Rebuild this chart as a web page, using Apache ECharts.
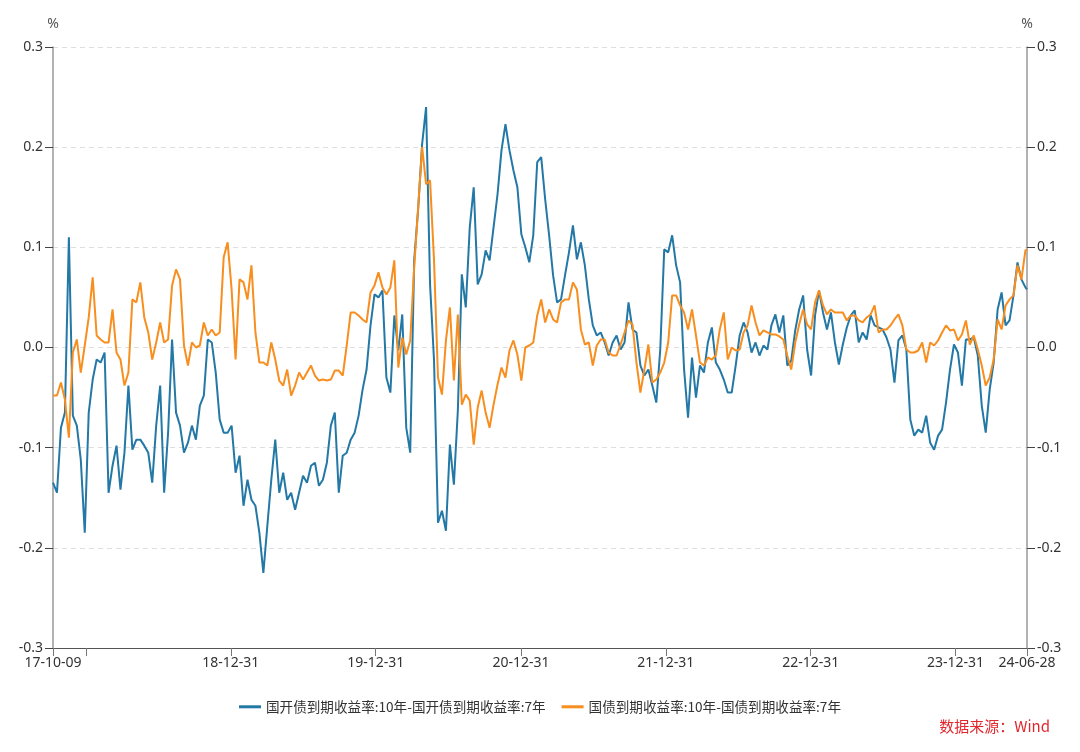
<!DOCTYPE html>
<html><head><meta charset="utf-8">
<script src="https://cdn.jsdelivr.net/npm/echarts@6/dist/echarts.min.js"></script>
<style>html,body{margin:0;padding:0;background:#fff}#c{width:1080px;height:752px}</style>
</head><body><div id="c"></div>
<script>
// ---- data ----
const startDate = '2017-10-09';
const endDate = '2024-06-28';
const stepDays = 10; // sampling step of the series below (calendar days)
const tickDates = ['2017-10-09','2017-12-31','2018-12-31','2019-12-31','2020-12-31','2021-12-31','2022-12-31','2023-12-31','2024-06-28'];
const labelDates = ['2017-10-09','2018-12-31','2019-12-31','2020-12-31','2021-12-31','2022-12-31','2023-12-31','2024-06-28'];
const seriesNames = ['国开债到期收益率:10年-国开债到期收益率:7年','国债到期收益率:10年-国债到期收益率:7年'];
const yMin = -0.3, yMax = 0.3, yStep = 0.1;
const unitLabel = '%';
const sourceText = '数据来源：Wind';

const devBank = [
-0.135,-0.145,-0.08,-0.065,0.11,-0.068,-0.078,-0.112,-0.185,-0.065,
-0.032,-0.012,-0.015,-0.005,-0.145,-0.118,-0.098,-0.142,-0.105,-0.038,
-0.102,-0.092,-0.092,-0.098,-0.105,-0.135,-0.078,-0.038,-0.145,-0.085,
0.008,-0.065,-0.078,-0.105,-0.095,-0.078,-0.092,-0.058,-0.048,0.008,
0.005,-0.025,-0.072,-0.085,-0.085,-0.078,-0.125,-0.108,-0.158,-0.132,
-0.152,-0.158,-0.185,-0.225,-0.178,-0.132,-0.092,-0.145,-0.125,-0.152,
-0.145,-0.162,-0.145,-0.128,-0.135,-0.118,-0.115,-0.138,-0.132,-0.115,
-0.078,-0.065,-0.145,-0.108,-0.105,-0.092,-0.085,-0.068,-0.042,-0.022,
0.022,0.053,0.05,0.057,-0.03,-0.045,0.032,-0.003,0.033,-0.08,
-0.105,0.087,0.138,0.203,0.24,0.063,-0.013,-0.175,-0.163,-0.183,
-0.097,-0.137,-0.063,0.073,0.04,0.12,0.16,0.063,0.073,0.097,
0.087,0.12,0.153,0.197,0.223,0.197,0.177,0.16,0.113,0.10,
0.085,0.112,0.185,0.19,0.148,0.112,0.072,0.045,0.048,0.072,
0.095,0.122,0.088,0.105,0.082,0.048,0.022,0.012,0.015,0.005,
-0.008,0.005,0.012,-0.002,0.005,0.045,0.018,0.015,-0.018,-0.028,
-0.022,-0.038,-0.055,-0.002,0.098,0.095,0.112,0.082,0.065,-0.022,
-0.07,-0.01,-0.05,-0.018,-0.025,0.005,0.02,-0.015,-0.022,-0.032,
-0.045,-0.045,-0.018,0.012,0.025,0.015,-0.005,0.005,-0.008,0.002,
-0.002,0.022,0.033,0.015,0.032,-0.018,-0.013,0.017,0.038,0.052,
-0.002,-0.028,0.032,0.057,0.035,0.018,0.035,0.005,-0.017,0.003,
0.02,0.032,0.037,0.005,0.015,0.008,0.032,0.022,0.02,0.018,
0.01,-0.002,-0.035,0.007,0.012,-0.002,-0.072,-0.088,-0.082,-0.085,
-0.068,-0.095,-0.102,-0.088,-0.082,-0.055,-0.022,0.003,-0.005,-0.038,
0.008,0.008,0.01,-0.008,-0.058,-0.085,-0.042,-0.015,0.038,0.055,
0.022,0.027,0.052,0.085,0.068,0.06,0.058
];
const treasury = [
-0.048,-0.048,-0.035,-0.052,-0.09,-0.005,0.008,-0.025,0.002,0.03,
0.07,0.012,0.008,0.005,0.005,0.038,-0.005,-0.012,-0.038,-0.025,
0.048,0.045,0.065,0.03,0.015,-0.012,0.005,0.025,0.005,0.008,
0.062,0.078,0.068,0.002,-0.018,0.005,0.0,0.002,0.025,0.012,
0.018,0.012,0.015,0.09,0.105,0.058,-0.012,0.068,0.065,0.048,
0.082,0.015,-0.015,-0.015,-0.018,0.005,-0.012,-0.033,-0.038,-0.022,
-0.048,-0.038,-0.025,-0.032,-0.025,-0.018,-0.028,-0.033,-0.032,-0.033,
-0.032,-0.023,-0.023,-0.028,0.002,0.035,0.035,0.032,0.028,0.025,
0.055,0.062,0.075,0.06,0.053,0.06,0.087,-0.02,0.01,-0.007,
0.007,0.08,0.14,0.2,0.163,0.167,0.087,-0.03,-0.047,0.007,
0.04,-0.033,0.033,-0.057,-0.047,-0.053,-0.097,-0.06,-0.043,-0.065,
-0.08,-0.057,-0.037,-0.02,-0.03,-0.003,0.007,-0.007,-0.033,0.0,
0.002,0.005,0.032,0.048,0.025,0.038,0.028,0.025,0.045,0.048,
0.048,0.065,0.058,0.018,0.003,0.005,-0.018,0.002,0.008,0.008,
-0.005,-0.008,-0.008,0.003,0.015,0.027,0.023,-0.015,-0.045,-0.022,
0.003,-0.035,-0.032,-0.025,-0.015,0.005,0.052,0.052,0.042,0.035,
0.018,0.038,0.012,-0.015,-0.018,-0.01,-0.012,-0.008,0.018,0.035,
-0.012,0.0,-0.003,-0.002,0.015,0.022,0.042,0.025,0.012,0.017,
0.015,0.013,0.013,0.011,0.008,-0.008,-0.022,0.005,0.023,0.038,
0.023,0.018,0.045,0.057,0.042,0.033,0.038,0.035,0.035,0.035,
0.027,0.032,0.032,0.027,0.025,0.03,0.033,0.042,0.015,0.018,
0.018,0.022,0.028,0.033,0.022,-0.002,-0.005,-0.005,-0.003,0.005,
-0.015,0.005,0.002,0.007,0.015,0.022,0.017,0.018,0.007,0.013,
0.027,0.003,0.012,-0.002,-0.018,-0.038,-0.03,-0.012,0.028,0.018,
0.042,0.048,0.052,0.082,0.068,0.097,0.098
];

// ---- helpers ----
function toTs(s){ const p = s.split('-').map(Number); return new Date(p[0], p[1]-1, p[2]).getTime(); }
function pad(n){ return (n<10?'0':'')+n; }
function fmt(v){ const d = new Date(v); return String(d.getFullYear()).slice(2)+'-'+pad(d.getMonth()+1)+'-'+pad(d.getDate()); }
const startTs = toTs(startDate), endTs = toTs(endDate);
const sp = startDate.split('-').map(Number);
const dates = devBank.map((_, i) => Math.min(new Date(sp[0], sp[1]-1, sp[2] + i*stepDays).getTime(), endTs));
const tickTs = tickDates.map(toTs);
const labelTs = labelDates.map(toTs);

const FONT = '"Noto Sans", "Noto Sans CJK SC", sans-serif';
const CJK = '"Noto Sans CJK SC", sans-serif';

function yAxisCfg(pos, showSplit){
  return {
    type: 'value', position: pos, min: yMin, max: yMax, interval: yStep,
    name: unitLabel, nameLocation: 'end', nameGap: 16,
    nameTextStyle: { color: '#555', fontSize: 14, fontFamily: FONT, align: 'center' },
    axisLine: { show: true, lineStyle: { color: '#999', width: 1.5 } },
    axisTick: { show: true, length: 8, lineStyle: { color: '#444', width: 1 } },
    axisLabel: { color: '#333', fontSize: 14, fontFamily: FONT, margin: 10,
      formatter: v => v.toFixed(1) },
    splitLine: { show: showSplit, lineStyle: { color: '#dedede', type: [5, 4], width: 1 } }
  };
}

const chart = echarts.init(document.getElementById('c'), null, { renderer: 'canvas' });
chart.setOption({
  backgroundColor: '#fff',
  animation: false,
  grid: { left: 53, right: 53, top: 47, bottom: 104, containLabel: false },
  xAxis: {
    type: 'value', min: startTs, max: endTs, scale: true,
    axisLine: { show: true, onZero: false, lineStyle: { color: '#555', width: 1.2 } },
    axisTick: { show: true, customValues: tickTs, length: 8, lineStyle: { color: '#777', width: 1 } },
    axisLabel: { customValues: labelTs, formatter: fmt, color: '#333', fontSize: 14, fontFamily: FONT, margin: 8, hideOverlap: false, showMinLabel: true, showMaxLabel: true },
    splitLine: { show: false }
  },
  yAxis: [ yAxisCfg('left', true), yAxisCfg('right', false) ],
  legend: {
    left: 'center', top: 695, itemGap: 16, itemWidth: 22, itemHeight: 3, icon: 'rect',
    textStyle: { color: '#333', fontSize: 13.6, fontFamily: CJK },
    data: seriesNames
  },
  graphic: [{
    type: 'text', right: 30, top: 719,
    style: { text: sourceText, fill: '#e0282e', font: '15px ' + CJK }
  }],
  series: [
    { name: seriesNames[0], type: 'line', yAxisIndex: 0, showSymbol: false, symbol: 'none',
      lineStyle: { color: '#2378a6', width: 2 }, itemStyle: { color: '#2378a6' },
      data: dates.map((d, i) => [d, devBank[i]]) },
    { name: seriesNames[1], type: 'line', yAxisIndex: 0, showSymbol: false, symbol: 'none',
      lineStyle: { color: '#f78e1e', width: 2 }, itemStyle: { color: '#f78e1e' },
      data: dates.map((d, i) => [d, treasury[i]]) }
  ]
});
</script>
</body></html>
